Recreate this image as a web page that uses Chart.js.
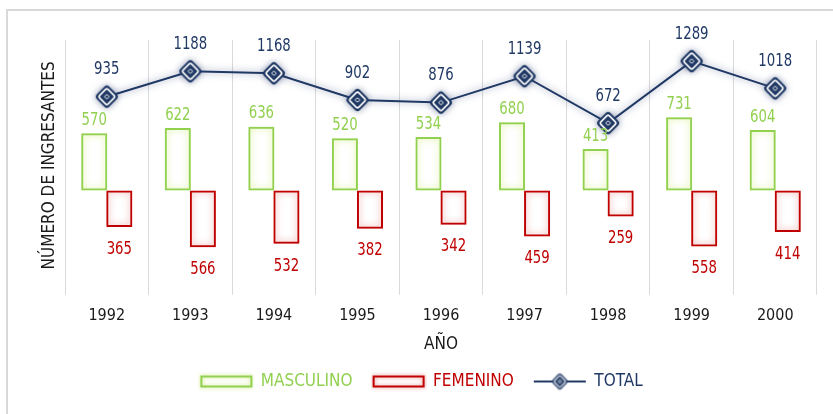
<!DOCTYPE html>
<html lang="es">
<head>
  <meta charset="UTF-8">
  <title>Número de ingresantes por año</title>
  <script src="https://cdn.jsdelivr.net/npm/chart.js"></script>
  <style>
    html, body { margin: 0; padding: 0; background: #fff; }
    .wrap { position: relative; width: 833px; height: 414px; overflow: hidden; }
    .frame {
      position: absolute; left: 6px; top: 9px; width: 900px; height: 500px;
      border: 2px solid #D9D9D9; box-sizing: border-box;
    }
    canvas { position: absolute; left: 0; top: 0; }
  </style>
</head>
<body>
  <div class="wrap">
    <div class="frame"></div>
    <canvas id="chart" width="833" height="414"></canvas>
  </div>

  <script>
    // Datos del gráfico
    const years = ['1992', '1993', '1994', '1995', '1996', '1997', '1998', '1999', '2000'];
    const masculino = [570, 622, 636, 520, 534, 680, 413, 731, 604];
    const femenino = [365, 566, 532, 382, 342, 459, 259, 558, 414];
    const total = [935, 1188, 1168, 902, 876, 1139, 672, 1289, 1018];

    const GREEN = '#92D050';
    const RED = '#C00000';
    const NAVY = '#1F3864';
    const FONT = "'DejaVu Sans Condensed', 'DejaVu Sans', sans-serif";

    // Marcador en forma de rombo
    function diamond(ctx, cx, cy, side, r) {
      ctx.save();
      ctx.translate(cx, cy);
      ctx.rotate(Math.PI / 4);
      ctx.beginPath();
      ctx.roundRect(-side / 2, -side / 2, side, side, r);
      ctx.restore();
    }

    function makeMarker(scale) {
      const c = document.createElement('canvas');
      const size = Math.ceil(28 * scale);
      c.width = size; c.height = size;
      const ctx = c.getContext('2d');
      const m = size / 2;
      diamond(ctx, m, m, 17.5 * scale, 3.5 * scale);
      ctx.fillStyle = NAVY;
      ctx.fill();
      diamond(ctx, m, m, 12 * scale, 2 * scale);
      ctx.strokeStyle = '#fff';
      ctx.lineWidth = 1.6 * scale;
      ctx.stroke();
      diamond(ctx, m, m, 3.4 * scale, 0.5);
      ctx.lineWidth = 1;
      ctx.stroke();
      return c;
    }

    function makeBox(color, glow) {
      const c = document.createElement('canvas');
      c.width = 56; c.height = 20;
      const ctx = c.getContext('2d');
      ctx.shadowColor = glow;
      ctx.shadowBlur = 4;
      ctx.strokeStyle = color;
      ctx.lineWidth = 2;
      ctx.strokeRect(3, 5, 50, 10);
      return c;
    }

    function makeLineIcon() {
      const c = document.createElement('canvas');
      c.width = 56; c.height = 22;
      const ctx = c.getContext('2d');
      ctx.strokeStyle = NAVY;
      ctx.lineWidth = 2;
      ctx.beginPath();
      ctx.moveTo(2, 11);
      ctx.lineTo(54, 11);
      ctx.stroke();
      const mk = makeMarker(0.72);
      ctx.drawImage(mk, 28 - mk.width / 2, 11 - mk.height / 2);
      return c;
    }

    const marker = makeMarker(1);
    const legendIcons = [
      makeBox(GREEN, 'rgba(190,225,90,0.8)'),
      makeBox(RED, 'rgba(220,90,90,0.7)'),
      makeLineIcon()
    ];

    // Brillo alrededor de las barras y la línea
    const glows = ['rgba(205,235,110,0.9)', 'rgba(225,110,110,0.75)', 'rgba(40,60,110,0.55)'];
    const glowPlugin = {
      id: 'glow',
      beforeDatasetDraw(chart, args) {
        const ctx = chart.ctx;
        ctx.save();
        ctx.shadowColor = glows[args.index];
        ctx.shadowBlur = 7;
      },
      afterDatasetDraw(chart) {
        chart.ctx.restore();
      }
    };

    // Etiquetas de valores (texto algo estrecho)
    function narrowText(ctx, txt, x, y) {
      ctx.save();
      ctx.translate(x, y);
      ctx.scale(0.82, 1);
      ctx.fillText(txt, 0, 0);
      ctx.restore();
    }

    const valueLabels = {
      id: 'valueLabels',
      afterDatasetsDraw(chart) {
        const ctx = chart.ctx;
        ctx.save();
        ctx.font = '18px ' + FONT;
        ctx.textAlign = 'center';
        ctx.textBaseline = 'middle';
        chart.getDatasetMeta(0).data.forEach((bar, i) => {
          ctx.fillStyle = GREEN;
          narrowText(ctx, masculino[i], bar.x, bar.y - 13);
        });
        chart.getDatasetMeta(1).data.forEach((bar, i) => {
          ctx.fillStyle = RED;
          narrowText(ctx, femenino[i], bar.x, bar.y + 22);
        });
        chart.getDatasetMeta(2).data.forEach((pt, i) => {
          ctx.fillStyle = NAVY;
          narrowText(ctx, total[i], pt.x, pt.y - 27);
        });
        ctx.restore();
      }
    };

    new Chart(document.getElementById('chart'), {
      data: {
        labels: years,
        datasets: [
          {
            type: 'bar',
            label: 'MASCULINO',
            data: masculino,
            backgroundColor: 'rgba(255,255,255,0)',
            borderColor: GREEN,
            borderWidth: 2,
            borderSkipped: false,
            categoryPercentage: 0.6,
            barPercentage: 1.04,
            order: 2
          },
          {
            type: 'bar',
            label: 'FEMENINO',
            data: femenino.map(v => -v),
            backgroundColor: 'rgba(255,255,255,0)',
            borderColor: RED,
            borderWidth: 2,
            borderSkipped: false,
            categoryPercentage: 0.6,
            barPercentage: 1.04,
            order: 2
          },
          {
            type: 'line',
            label: 'TOTAL',
            data: total,
            borderColor: NAVY,
            borderWidth: 2,
            pointStyle: marker,
            tension: 0,
            order: 1
          }
        ]
      },
      options: {
        responsive: false,
        animation: false,
        layout: { padding: { left: 26, right: 16, top: 40, bottom: 14 } },
        scales: {
          x: {
            offset: true,
            grid: { offset: true, color: '#D9D9D9', tickLength: 4, lineWidth: 1 },
            border: { display: false },
            ticks: { color: '#1a1a1a', font: { family: FONT, size: 16 }, padding: 11 },
            title: { display: true, text: 'AÑO', color: '#1a1a1a', font: { family: FONT, size: 17, lineHeight: 1 }, padding: { top: 0, bottom: 0 } }
          },
          y: {
            min: -1000,
            max: 1500,
            grid: { display: false },
            border: { display: false },
            ticks: { display: false },
            title: { display: true, text: 'NÚMERO DE INGRESANTES', color: '#1a1a1a', font: { family: FONT, size: 17 }, padding: { top: 13, bottom: 6 } },
            afterFit(scale) { scale.width = 39; }
          }
        },
        plugins: {
          tooltip: { enabled: false },
          legend: {
            position: 'bottom',
            labels: {
              usePointStyle: true,
              pointStyleWidth: 52,
              padding: 20,
              font: { family: FONT, size: 17 },
              generateLabels(chart) {
                return chart.data.datasets.map((ds, i) => ({
                  text: ds.label,
                  fontColor: [GREEN, RED, NAVY][i],
                  pointStyle: legendIcons[i],
                  datasetIndex: i,
                  lineWidth: 0,
                  hidden: false
                }));
              }
            }
          }
        }
      },
      plugins: [glowPlugin, valueLabels]
    });
  </script>
</body>
</html>
